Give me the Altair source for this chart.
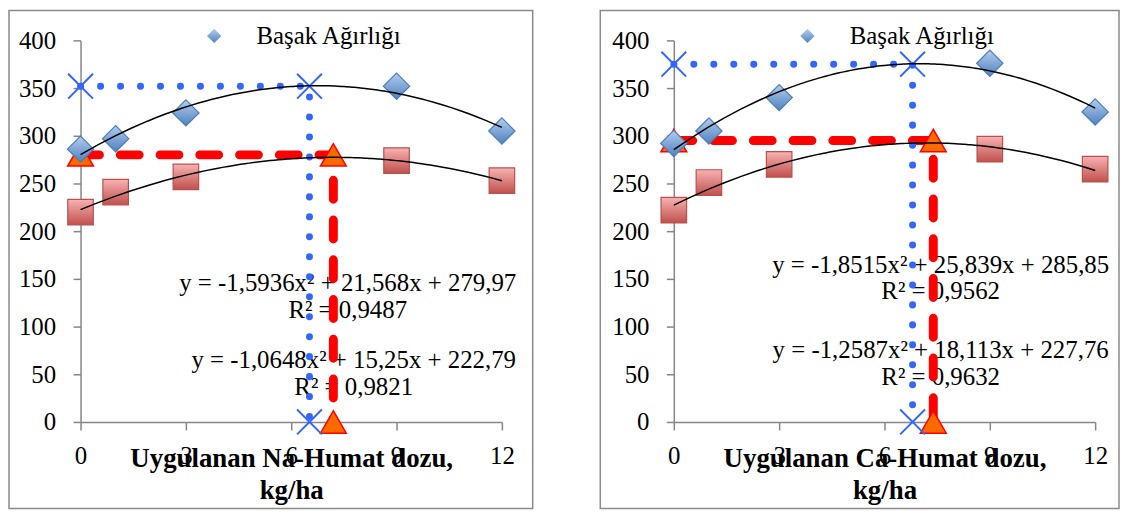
import altair as alt
import pandas as pd

# ---------------- data ----------------
doses = [0, 1, 3, 9, 12]
na_basak = [286, 297, 324, 352, 305]
na_other = [220, 241, 257, 274, 253]
ca_basak = [292, 305, 340, 376, 325]
ca_other = [222, 251, 270, 286, 265]

na_blue_x = [0, 6.52, 6.52]
na_blue_y = [352, 352, 0]
na_red_x = [0, 7.2, 7.2]
na_red_y = [280, 280, 0]
ca_blue_x = [0, 6.8, 6.8]
ca_blue_y = [375, 375, 0]
ca_red_x = [0, 7.39, 7.39]
ca_red_y = [295, 295, 0]

na_eq_text = ["y = -1,5936x² + 21,568x + 279,97", "R² = 0,9487",
              "y = -1,0648x² + 15,25x + 222,79", "R² = 0,9821"]
na_eq_x = [7.61, 7.61, 7.78, 7.78]
na_eq_y = [146, 117, 64.6, 37]
ca_eq_text = ["y = -1,8515x² + 25,839x + 285,85", "R² = 0,9562",
              "y = -1,2587x² + 18,113x + 227,76", "R² = 0,9632"]
ca_eq_x = [7.6, 7.6, 7.6, 7.6]
ca_eq_y = [165, 137.2, 75, 47.4]

legend_label = "Başak Ağırlığı"
x_ticks = [0, 3, 6, 9, 12]
y_ticks = [0, 50, 100, 150, 200, 250, 300, 350, 400]

FONT = "Liberation Serif"
AXIS_GREY = "#868686"

blue_grad = alt.Gradient(gradient="linear", x1=0, x2=0, y1=0, y2=1,
                         stops=[alt.GradientStop(color="#b3cdf0", offset=0),
                                alt.GradientStop(color="#4f81bd", offset=1)])
red_grad = alt.Gradient(gradient="linear", x1=0, x2=0, y1=0, y2=1,
                        stops=[alt.GradientStop(color="#f7b3b2", offset=0),
                               alt.GradientStop(color="#c0504d", offset=1)])
X_PATH = "M-1,-1L1,1M-1,1L1,-1"


def panel(basak, other, bx, by, rx, ry, eq_t, eq_x, eq_y, title, width, frame):
    pts = pd.DataFrame({"x": doses * 2, "y": basak + other,
                        "kind": ["basak"] * len(doses) + ["other"] * len(doses),
                        "series": [legend_label] * len(doses) + ["x"] * len(doses)})
    blue = pd.DataFrame({"x": bx, "y": by, "i": list(range(len(bx)))})
    red = pd.DataFrame({"x": rx, "y": ry, "i": list(range(len(rx)))})
    eq = pd.DataFrame({"x": eq_x, "y": eq_y, "t": eq_t})

    xs = alt.Scale(domain=[0, 12], nice=False, zero=False)
    ys = alt.Scale(domain=[0, 400], nice=False, zero=False)
    x_axis = alt.Axis(values=x_ticks, grid=False, domainColor=AXIS_GREY, tickColor=AXIS_GREY,
                      domainWidth=1.5, tickWidth=1.5, tickSize=8,
                      labelFont=FONT, labelFontSize=25, labelColor="black",
                      labelBaseline="alphabetic", labelPadding=34, labelFlush=False,
                      labelOverlap=False,
                      titleFont=FONT, titleFontSize=27, titleFontWeight="bold",
                      titleColor="black", titleBaseline="alphabetic", titleY=45,
                      titleLineHeight=32)
    y_axis = alt.Axis(values=y_ticks, grid=False, domainColor=AXIS_GREY, tickColor=AXIS_GREY,
                      domainWidth=1.5, tickWidth=1.5, tickSize=7.5,
                      labelFont=FONT, labelFontSize=25, labelColor="black",
                      labelPadding=17.5, labelOverlap=False, title=None)
    X = alt.X("x:Q", scale=xs, axis=x_axis, title=title)
    Y = alt.Y("y:Q", scale=ys, axis=y_axis, title=None)

    frame_l = alt.Chart(pd.DataFrame({"a": [0]})).mark_rect(
        fill="transparent", stroke="#8a8a8a", strokeWidth=1.5).encode(
        x=alt.value(frame[0]), x2=alt.value(frame[1]),
        y=alt.value(frame[2]), y2=alt.value(frame[3]))

    text_l = alt.Chart(eq).mark_text(font=FONT, fontSize=25, color="black",
                                     align="center", baseline="middle").encode(
        x=X, y=Y, text="t:N")

    red_line = alt.Chart(red).mark_line(color="#ff0000", strokeWidth=9,
                                        strokeDash=[19, 21], strokeCap="round").encode(
        x=X, y=Y, order="i:O")
    red_tri = alt.Chart(red).mark_point(shape="triangle-up", size=676, filled=True,
                                        fill="#ff6a00", stroke="#ff0000", strokeWidth=1.5,
                                        opacity=1).encode(x=X, y=Y)
    blue_line = alt.Chart(blue).mark_line(color="#3366ff", strokeWidth=7,
                                          strokeDash=[0.1, 20], strokeCap="round").encode(
        x=X, y=Y, order="i:O")
    blue_x = alt.Chart(blue).mark_point(shape=X_PATH, size=625, filled=False,
                                        color="#3366ff", strokeWidth=2, opacity=1).encode(x=X, y=Y)

    base = alt.Chart(pts)
    squares = base.transform_filter(alt.datum.kind == "other").mark_point(
        shape="square", size=660, filled=True, fill=red_grad, stroke="#b9504d",
        strokeWidth=1.2, opacity=1).encode(x=X, y=Y)
    diamonds = base.transform_filter(alt.datum.kind == "basak").mark_point(
        size=700, filled=True, fill=blue_grad, stroke="#4a7ebb",
        strokeWidth=1.2, opacity=1).encode(
        x=X, y=Y,
        shape=alt.Shape("series:N",
                        scale=alt.Scale(domain=[legend_label], range=["diamond"]),
                        legend=alt.Legend(title=None, orient="none", legendX=122, legendY=-17,
                                          padding=0, symbolSize=210,
                                          symbolFillColor="#6f9fd8",
                                          symbolStrokeColor="#4a7ebb", symbolStrokeWidth=1,
                                          labelFont=FONT, labelFontSize=25,
                                          labelColor="black", labelOffset=30)))
    trend = base.transform_regression("x", "y", groupby=["kind"], method="poly", order=2,
                                      extent=[0, 12]).mark_line(
        color="black", strokeWidth=1.5).encode(x=X, y=Y, detail="kind:N")

    return alt.layer(frame_l, text_l, red_line, red_tri, blue_line, blue_x,
                     squares, diamonds, trend).properties(width=width, height=384)


left = panel(na_basak, na_other, na_blue_x, na_blue_y, na_red_x, na_red_y,
             na_eq_text, na_eq_x, na_eq_y, ["Uygulanan Na-Humat dozu,", "kg/ha"], 424,
             [-72, 455, -30, 471])
right = panel(ca_basak, ca_other, ca_blue_x, ca_blue_y, ca_red_x, ca_red_y,
              ca_eq_text, ca_eq_x, ca_eq_y, ["Uygulanan Ca-Humat dozu,", "kg/ha"], 424,
              [-74, 448, -30, 471])

chart = alt.hconcat(left, right, spacing=173, bounds="flush").resolve_scale(
    x="independent", y="independent", shape="independent").configure_view(
    stroke=None).properties(padding=0, background="white")

chart.save("out.html", embed_options={"renderer": "svg", "actions": False})
